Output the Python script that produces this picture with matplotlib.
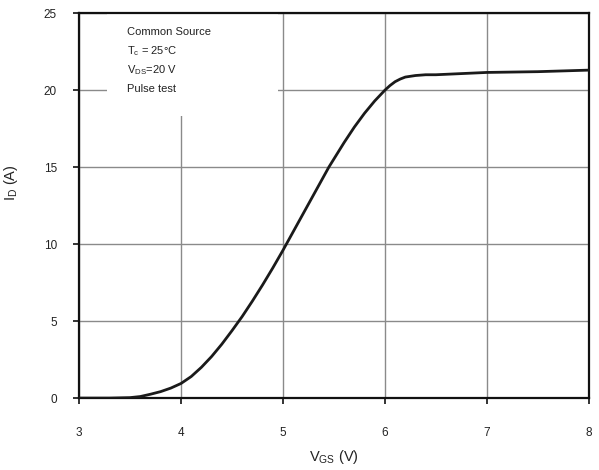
import matplotlib
matplotlib.use("Agg")
import matplotlib.pyplot as plt
from matplotlib.patches import Rectangle

plt.rcParams['font.family'] = ['Liberation Sans', 'DejaVu Sans']

# transfer characteristic
vgs = [3.0, 3.3, 3.5, 3.6, 3.7, 3.8, 3.9, 4.0, 4.1, 4.2, 4.3, 4.4, 4.5, 4.6,
       4.7, 4.8, 4.9, 5.0, 5.1, 5.2, 5.3, 5.45, 5.6, 5.7, 5.8, 5.9, 6.0,
       6.05, 6.1, 6.15, 6.2, 6.3, 6.4, 6.5, 7.0, 7.5, 8.0]
i_d = [0.0, 0.0, 0.03, 0.1, 0.25, 0.42, 0.65, 0.95, 1.4, 2.0, 2.7, 3.5, 4.38, 5.3,
       6.3, 7.35, 8.45, 9.6, 10.8, 12.0, 13.2, 15.0, 16.6, 17.6, 18.5, 19.3, 20.0,
       20.3, 20.55, 20.72, 20.85, 20.95, 21.0, 21.0, 21.15, 21.2, 21.3]

xticks = [3, 4, 5, 6, 7, 8]
yticks = [0, 5, 10, 15, 20, 25]
notes = ["Common Source", "T$_\\mathregular{c}$ = 25°C",
         "V$_\\mathregular{DS}$=20 V", "Pulse test"]

fig = plt.figure(figsize=(5.99, 4.70), dpi=100)
ax = fig.add_axes([0.132, 0.153, 0.851, 0.819])

ax.set_xlim(3, 8)
ax.set_ylim(0, 25)
ax.set_xticks(xticks)
ax.set_yticks(yticks)
ax.grid(True, color='#8a8a8a', linewidth=1.0)
ax.set_axisbelow(True)

# white box behind the notes hides part of the grid
ax.add_patch(Rectangle((3.27, 18.3), 1.68, 6.7, facecolor='white',
                       edgecolor='none', zorder=1.5))

ax.plot(vgs, i_d, color='#1a1a1a', linewidth=2.0, zorder=3,
        solid_joinstyle='round')

for k, line in enumerate(notes):
    ax.text(3.47, 23.8 - k * 1.25, line, fontsize=8, color='#222222',
            va='center', ha='left', zorder=4)

for s in ax.spines.values():
    s.set_linewidth(1.6)
    s.set_color('#111111')

ax.tick_params(axis='both', direction='out', length=4, width=1.2,
               labelsize=8.5, colors='#111111')
ax.tick_params(axis='x', pad=17)
ax.tick_params(axis='y', pad=12)
for lab in ax.get_xticklabels() + ax.get_yticklabels():
    lab.set_color('#222222')

ax.set_xlabel(r'V$_\mathregular{GS}$ (V)', fontsize=10.5, color='#222222')
ax.xaxis.set_label_coords(0.50, -0.13)
ax.set_ylabel(r'I$_\mathregular{D}$ (A)', fontsize=10.5, color='#222222')
ax.yaxis.set_label_coords(-0.115, 0.56)

fig.savefig('out.png', dpi=100)
